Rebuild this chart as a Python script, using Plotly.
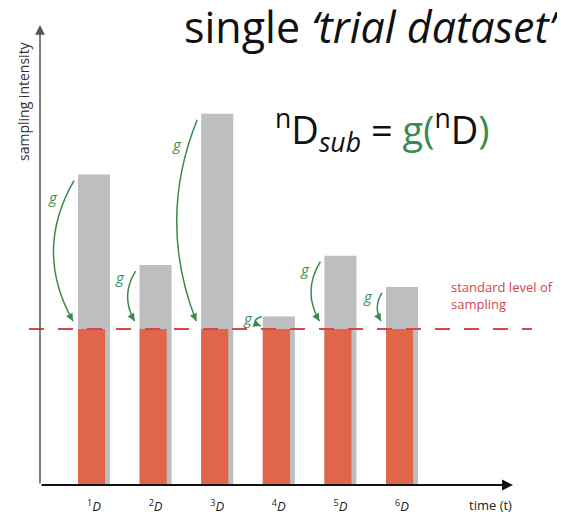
import plotly.graph_objects as go

# ---- data ----
datasets = ["1", "2", "3", "4", "5", "6"]
positions = [1, 2, 3, 4, 5, 6]
sampling_intensity = [1.99, 1.41, 2.38, 1.08, 1.47, 1.27]
standard_level = 1.0
tick_labels = ["<sup>%s</sup><i>D</i>" % d for d in datasets]

# ---- layout geometry (page has an 8px body margin) ----
W, H = 557, 511
ML, MR, MT, MB = 32, 25, 17, 34
PW, PH = W - ML - MR, H - MT - MB
X0, X1 = 0.1234, 8.240
YMAX = 2.949
sx = PW / (X1 - X0)
sy = PH / YMAX

GRAY = "#bdbec0"
RED = "#e0664a"
DASH_RED = "#d94452"
GREEN = "#3a8a4f"
FONT = "Open Sans"

gray_w = 0.52
red_w = 0.44


def px_paper(px, py):
    # page pixel -> paper coords
    return (px - 8 - ML) / PW, (MT + PH - (py - 8)) / PH


fig = go.Figure()
fig.add_trace(go.Bar(x=positions, y=sampling_intensity, width=gray_w, offset=-gray_w / 2,
                     marker=dict(color=GRAY, line=dict(width=0)), hoverinfo="skip"))
fig.add_trace(go.Bar(x=positions, y=[standard_level] * len(positions), width=red_w, offset=-gray_w / 2,
                     marker=dict(color=RED, line=dict(width=0)), hoverinfo="skip"))

shapes = []
annotations = []

# dashed standard level
shapes.append(dict(type="line", xref="paper", yref="y", x0=-11 / PW, x1=492 / PW,
                   y0=standard_level, y1=standard_level,
                   line=dict(color=DASH_RED, width=2, dash="15px,14px"), layer="above"))


def to_px(x, y):
    return ML + (x - X0) * sx, MT + PH - y * sy


# curved "g" arrows
for p, v in zip(positions, sampling_intensity):
    left = p - gray_w / 2
    length_px = (v - standard_level) * sy
    if length_px > 30:
        xs, ys = left - 4 / sx, v - 6 / sy
        xe, ye = left - 5 / sx, standard_level + 8 / sy
        dev = min(20.0, 0.15 * (ys - ye) * sy)
        xc, yc = (xs + xe) / 2 - 2 * dev / sx, (ys + ye) / 2
        t = 0.12
        gx = (1 - t) ** 2 * xs + 2 * t * (1 - t) * xc + t * t * xe - 12 / sx
        gy = (1 - t) ** 2 * ys + 2 * t * (1 - t) * yc + t * t * ye
    else:
        xs, ys = left - 1 / sx, v
        xe, ye = left - 2 / sx, standard_level + 3 / sy
        xc, yc = left - 14 / sx, (ys + ye) / 2
        gx, gy = left - 15 / sx, v - 1 / sy
    shapes.append(dict(type="path", xref="x", yref="y",
                       path=f"M {xs},{ys} Q {xc},{yc} {xe},{ye}",
                       line=dict(color=GREEN, width=1.5), layer="above"))
    ex, ey = to_px(xe, ye)
    cx, cy = to_px(xc, yc)
    tx, ty = ex - cx, ey - cy
    n = (tx ** 2 + ty ** 2) ** 0.5
    annotations.append(dict(x=xe, y=ye, xref="x", yref="y", text="", showarrow=True,
                            ax=-tx / n * 7, ay=-ty / n * 7, arrowhead=2, arrowsize=1,
                            arrowwidth=1.5, arrowcolor=GREEN, standoff=0))
    annotations.append(dict(x=gx, y=gy, xref="x", yref="y", text="<i>g</i>", showarrow=False,
                            xanchor="center", yanchor="middle",
                            font=dict(family=FONT, size=15, color=GREEN)))

# axes arrows
annotations.append(dict(x=0, y=1, xref="paper", yref="paper", text="", showarrow=True,
                        ax=0, ay=PH, arrowhead=2, arrowsize=1.3, arrowwidth=1.5,
                        arrowcolor="#555555", standoff=0))
annotations.append(dict(x=473 / PW, y=0, xref="paper", yref="paper", text="", showarrow=True,
                        ax=-473, ay=0, arrowhead=2, arrowsize=1.1, arrowwidth=2,
                        arrowcolor="#111111", standoff=0))


def text_at(px, py, text, size, color, **kw):
    x, y = px_paper(px, py)
    d = dict(x=x, y=y, xref="paper", yref="paper", text=text, showarrow=False,
             xanchor="center", yanchor="middle",
             font=dict(family=FONT, size=size, color=color))
    d.update(kw)
    annotations.append(d)


text_at(372, 27, "single <i>‘trial dataset’</i>", 43, "#111111")
text_at(382, 130, ("<sup>n</sup>D<sub><i>sub</i></sub> = "
                   f"<span style='color:{GREEN}'>g(</span><sup>n</sup>D"
                   f"<span style='color:{GREEN}'>)</span>"), 38, "#111111")
text_at(23, 101, "sampling intensity", 14, "#333333", textangle=-90)
text_at(449, 295, "standard level of<br>sampling", 13, "#d9434e", xanchor="left", align="left")
text_at(490, 505, "time (t)", 13, "#222222")

fig.update_layout(
    width=W, height=H,
    margin=dict(l=ML, r=MR, t=MT, b=MB, autoexpand=False),
    paper_bgcolor="white", plot_bgcolor="white",
    barmode="overlay", showlegend=False,
    shapes=shapes, annotations=annotations,
    xaxis=dict(range=[X0, X1], tickvals=positions, ticktext=tick_labels,
               showgrid=False, zeroline=False, showline=False, ticks="",
               ticklabelstandoff=12, automargin=False,
               tickfont=dict(family=FONT, size=13, color="#222222")),
    yaxis=dict(range=[0, YMAX], showgrid=False, zeroline=False, showline=False,
               showticklabels=False, ticks="", automargin=False),
)

fig.write_html("out.html")
